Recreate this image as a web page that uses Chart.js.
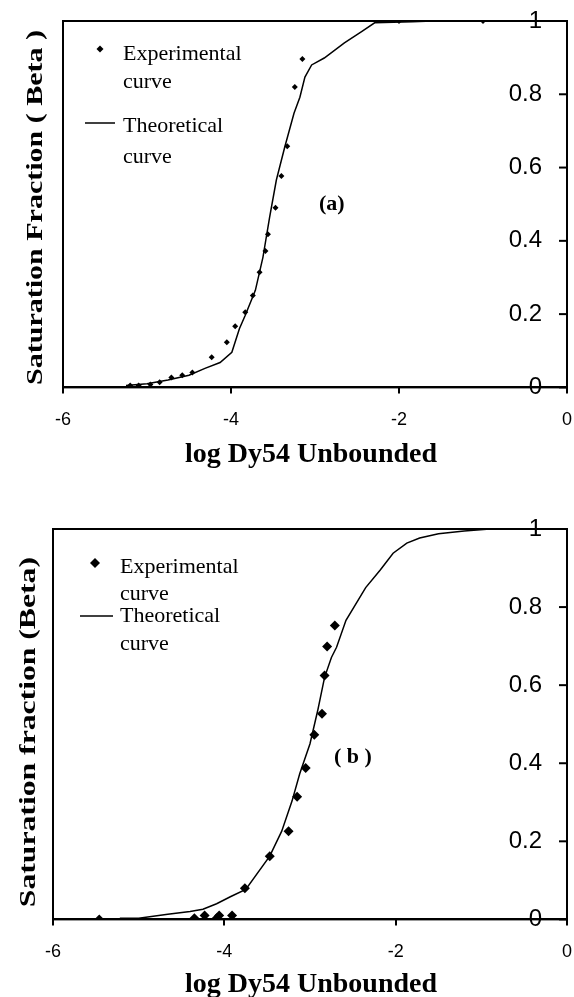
<!DOCTYPE html>
<html>
<head>
<meta charset="utf-8">
<script src="https://cdn.jsdelivr.net/npm/chart.js@4.4.1/dist/chart.umd.min.js"></script>
<style>
  html, body { margin: 0; padding: 0; background: #fff; }
  .panel { position: absolute; left: 0; }
  #wrapA { top: 0; }
  #wrapB { top: 480px; }
</style>
</head>
<body>
<div class="panel" id="wrapA"><canvas id="chartA" width="574" height="470"></canvas></div>
<div class="panel" id="wrapB"><canvas id="chartB" width="574" height="517"></canvas></div>
<script>
// values
var xTicks = [-6, -4, -2, 0];
var yTicks = [0, 0.2, 0.4, 0.6, 0.8, 1];

// panel (a)
var expA_x = [-5.2, -5.1, -4.96, -4.85, -4.71, -4.58, -4.46, -4.23, -4.05, -3.95, -3.83, -3.74, -3.66, -3.59, -3.56, -3.47, -3.40, -3.33, -3.24, -3.15, -2.0, -1.0];
var expA_y = [0.005, 0.005, 0.008, 0.014, 0.027, 0.033, 0.041, 0.082, 0.123, 0.167, 0.205, 0.251, 0.314, 0.372, 0.418, 0.49, 0.577, 0.658, 0.82, 0.896, 1.0, 1.0];
var theoA_x = [-5.25, -5.0, -4.75, -4.5, -4.31, -4.13, -3.99, -3.9, -3.83, -3.71, -3.62, -3.54, -3.46, -3.36, -3.25, -3.18, -3.12, -3.04, -2.89, -2.65, -2.45, -2.29, -1.84, -1.6];
var theoA_y = [0.005, 0.01, 0.02, 0.033, 0.052, 0.068, 0.096, 0.16, 0.197, 0.265, 0.355, 0.465, 0.566, 0.656, 0.748, 0.792, 0.847, 0.88, 0.899, 0.94, 0.97, 0.995, 0.998, 1.0];

// panel (b)
var expB_x = [-5.46, -4.35, -4.23, -4.09, -4.06, -3.91, -3.76, -3.47, -3.25, -3.15, -3.05, -2.95, -2.86, -2.83, -2.80, -2.71];
var expB_y = [0.0, 0.003, 0.01, 0.003, 0.01, 0.01, 0.08, 0.162, 0.226, 0.314, 0.388, 0.473, 0.527, 0.625, 0.699, 0.753];
var theoB_x = [-5.22, -5.0, -4.66, -4.4, -4.25, -4.09, -3.93, -3.75, -3.47, -3.33, -3.21, -3.12, -3.0, -2.91, -2.83, -2.75, -2.69, -2.58, -2.35, -2.18, -2.03, -1.87, -1.72, -1.5, -1.2, -0.9];
var theoB_y = [0.003, 0.003, 0.013, 0.02, 0.026, 0.04, 0.058, 0.077, 0.162, 0.226, 0.303, 0.373, 0.45, 0.535, 0.62, 0.671, 0.697, 0.766, 0.85, 0.895, 0.938, 0.964, 0.977, 0.988, 0.995, 1.0];

function pts(xs, ys) {
  return xs.map(function (x, i) { return { x: x, y: ys[i] }; });
}

var SERIF = "'Liberation Serif', 'Times New Roman', serif";
var SANS = "'Liberation Sans', Arial, sans-serif";

// frame, inward ticks on the right axis, legend box and titles
var decor = {
  id: "decor",
  afterDraw: function (chart, args, o) {
    var ctx = chart.ctx, a = chart.chartArea, sy = chart.scales.y, sx = chart.scales.x;
    ctx.save();
    ctx.strokeStyle = "#000";
    ctx.fillStyle = "#000";
    ctx.lineWidth = 2;
    ctx.strokeRect(a.left, a.top, a.right - a.left, a.bottom - a.top);
    yTicks.forEach(function (v) {
      var y = sy.getPixelForValue(v);
      ctx.beginPath();
      ctx.moveTo(a.right - 8, y);
      ctx.lineTo(a.right, y);
      ctx.stroke();
    });

    // legend
    var L = o.legend;
    ctx.font = "22px " + SERIF;
    ctx.textAlign = "left";
    ctx.textBaseline = "alphabetic";
    ctx.beginPath();
    var mx = a.left + L.marker[0], my = a.top + L.marker[1], r = L.markerSize;
    ctx.moveTo(mx, my - r); ctx.lineTo(mx + r, my); ctx.lineTo(mx, my + r); ctx.lineTo(mx - r, my);
    ctx.closePath();
    ctx.fill();
    ctx.lineWidth = 1.5;
    ctx.beginPath();
    ctx.moveTo(a.left + L.line[0], a.top + L.line[2]);
    ctx.lineTo(a.left + L.line[1], a.top + L.line[2]);
    ctx.stroke();
    L.texts.forEach(function (t) {
      ctx.fillText(t[0], a.left + L.textX, a.top + t[1]);
    });

    // panel label
    ctx.font = "bold 22px " + SERIF;
    ctx.textAlign = "center";
    ctx.textBaseline = "middle";
    ctx.fillText(o.panel.text, sx.getPixelForValue(o.panel.x), sy.getPixelForValue(o.panel.y));

    // axis titles
    ctx.font = "bold 28px " + SERIF;
    ctx.textBaseline = "alphabetic";
    ctx.fillText(o.xTitle.text, o.xTitle.x, o.xTitle.y);
    ctx.font = "bold 24px " + SERIF;
    ctx.translate(o.yTitle.x, o.yTitle.y);
    ctx.rotate(-Math.PI / 2);
    ctx.scale(o.yTitle.stretch, 1);
    ctx.textAlign = "right";
    ctx.fillText(o.yTitle.text, 0, 0);
    ctx.restore();
  }
};

function noOverhang(s) {
  s.paddingTop = 0; s.paddingBottom = 0; s.paddingLeft = 0; s.paddingRight = 0;
}

function makeChart(id, expData, theoData, markerR, padding, decorOpts) {
  return new Chart(document.getElementById(id), {
    type: "scatter",
    data: {
      datasets: [
        {
          label: "Experimental curve",
          data: expData,
          showLine: false,
          pointStyle: "rectRot",
          pointRadius: markerR,
          pointBackgroundColor: "#000",
          pointBorderColor: "#000",
          pointBorderWidth: 0
        },
        {
          label: "Theoretical curve",
          data: theoData,
          showLine: true,
          pointRadius: 0,
          borderColor: "#000",
          borderWidth: 1.5,
          tension: 0
        }
      ]
    },
    options: {
      responsive: false,
      animation: false,
      layout: { padding: padding },
      plugins: {
        legend: { display: false },
        tooltip: { enabled: false },
        decor: decorOpts
      },
      scales: {
        x: {
          type: "linear",
          position: "bottom",
          min: -6,
          max: 0,
          afterBuildTicks: function (s) { s.ticks = xTicks.map(function (v) { return { value: v }; }); },
          afterFit: noOverhang,
          ticks: { color: "#000", padding: 16, font: { family: SANS, size: 18 } },
          grid: { drawOnChartArea: false, drawTicks: true, tickLength: 6, color: "#000", lineWidth: 2 },
          border: { color: "#000", width: 2 }
        },
        y: {
          type: "linear",
          position: "right",
          min: 0,
          max: 1,
          afterBuildTicks: function (s) { s.ticks = yTicks.map(function (v) { return { value: v }; }); },
          afterFit: function (s) { noOverhang(s); s.width = 0; },
          ticks: {
            mirror: true,
            padding: -25,
            color: "#000",
            font: { family: SANS, size: 24 },
            callback: function (v) { return String(v); }
          },
          grid: { drawOnChartArea: false, drawTicks: false, color: "#000" },
          border: { color: "#000", width: 2 }
        }
      }
    },
    plugins: [decor]
  });
}

makeChart("chartA", pts(expA_x, expA_y), pts(theoA_x, theoA_y), 3,
  { left: 63, right: 7, top: 21, bottom: 23 },
  {
    legend: {
      marker: [37, 28], markerSize: 3.5, line: [22, 52, 102], textX: 60,
      texts: [["Experimental", 39], ["curve", 67], ["Theoretical", 111], ["curve", 142]]
    },
    panel: { text: "(a)", x: -2.8, y: 0.5 },
    xTitle: { text: "log Dy54 Unbounded", x: 311, y: 462 },
    yTitle: { text: "Saturation Fraction ( Beta )", x: 42, y: 30, stretch: 1.25 }
  });

makeChart("chartB", pts(expB_x, expB_y), pts(theoB_x, theoB_y), 5,
  { left: 53, right: 7, top: 49, bottom: 18 },
  {
    legend: {
      marker: [42, 34], markerSize: 5, line: [27, 60, 87], textX: 67,
      texts: [["Experimental", 44], ["curve", 71], ["Theoretical", 93], ["curve", 121]]
    },
    panel: { text: "( b )", x: -2.5, y: 0.414 },
    xTitle: { text: "log Dy54 Unbounded", x: 311, y: 512 },
    yTitle: { text: "Saturation fraction (Beta)", x: 35, y: 77, stretch: 1.32 }
  });
</script>
</body>
</html>
